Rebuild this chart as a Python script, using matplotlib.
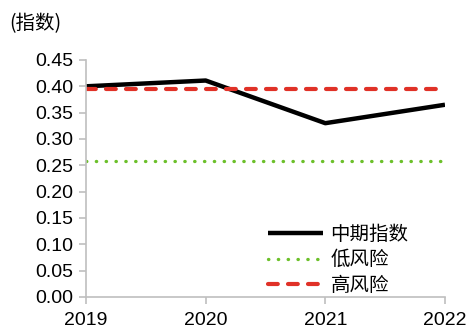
import matplotlib
matplotlib.use("Agg")
import matplotlib.pyplot as plt

years = ["2019", "2020", "2021", "2022"]
mid_index = [0.400, 0.411, 0.330, 0.365]
low_risk = [0.258, 0.258, 0.258, 0.258]
high_risk = [0.395, 0.395, 0.395, 0.395]
yticks = [0.00, 0.05, 0.10, 0.15, 0.20, 0.25, 0.30, 0.35, 0.40, 0.45]

plt.rcParams['font.family'] = ['Liberation Sans', 'Noto Sans CJK SC', 'DejaVu Sans']

fig = plt.figure(figsize=(4.68, 3.26), dpi=100)
ax = fig.add_axes([0.1838, 0.089, 0.767, 0.727])

x = list(range(len(years)))
ax.plot(x, mid_index, color="black", lw=3.2, solid_capstyle="butt", label="中期指数")
ax.plot(x, low_risk, color="#6cc02a", lw=2.4, linestyle=(0, (0.1, 2.85)),
        dash_capstyle="round", label="低风险")
ax.plot(x, high_risk, color="#e03127", lw=3.0, linestyle=(0, (2.35, 2.45)),
        dash_capstyle="round", label="高风险")

ax.set_xlim(0, 3)
ax.set_ylim(0, 0.45)
ax.set_xticks(x)
ax.set_xticklabels(years)
ax.set_yticks(yticks)
ax.set_yticklabels([f"{v:.2f}" for v in yticks])

for s in ["top", "right"]:
    ax.spines[s].set_visible(False)
for s in ["left", "bottom"]:
    ax.spines[s].set_color("#bfbfbf")
    ax.spines[s].set_linewidth(1.2)

ax.tick_params(axis="both", colors="#bfbfbf", labelcolor="black", labelsize=14,
               length=5, width=1.2, direction="out")
ax.tick_params(axis="y", pad=4)
ax.tick_params(axis="x", pad=6)

leg = fig.legend(*ax.get_legend_handles_labels(), loc="lower left",
                 bbox_to_anchor=(268 / 468, 1 - 296 / 326), frameon=False,
                 borderpad=0, borderaxespad=0,
                 handlelength=2.85, handletextpad=0.36, labelspacing=0.24,
                 prop={"family": ["Noto Sans CJK SC", "DejaVu Sans"], "size": 14})

fig.text(0.02, 0.895, "(指数)", fontsize=14,
         family=["Noto Sans CJK SC", "DejaVu Sans"], va="bottom")

fig.savefig("out.png", dpi=100)
